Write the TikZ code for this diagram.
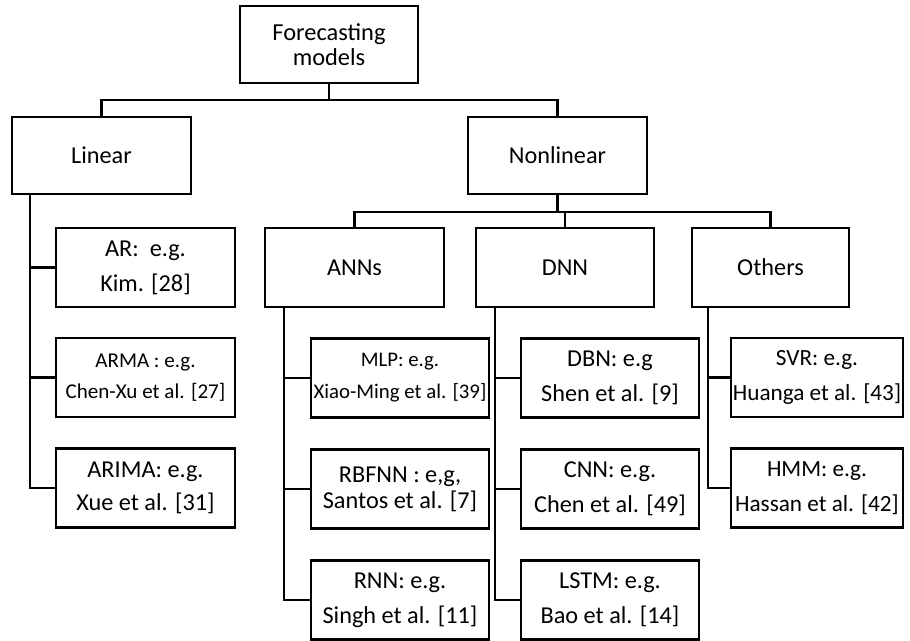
\documentclass[tikz,border=0pt]{standalone}
\usepackage{fontspec}
\setmainfont{Carlito}
\begin{document}
\begin{tikzpicture}[x=0.75pt,y=-0.75pt,
  box/.style={draw, line width=2.1pt, rectangle, inner sep=0pt, align=center,
     minimum width=#1*0.75pt},
  tall/.style={minimum height=79*0.75pt},
  lbl/.style args={#1/#2}{font=\fontsize{#1}{#2}\selectfont},
  conn/.style={line width=1.9pt}]
\useasboundingbox (0,0) rectangle (910,641);
% level 0-1
\node[box=178, minimum height=77*0.75pt, lbl=18.3/19] (fm) at (329,44.5) {Forecasting\\models};
\node[box=179, minimum height=77*0.75pt, lbl=18.2/20] (lin) at (101.5,155.5) {Linear};
\node[box=179, minimum height=77*0.75pt, lbl=18.2/20] (nonlin) at (557.5,155.5) {Nonlinear};
% linear children
\node[box=179, tall, lbl=18.2/26.25] (ar) at (145.5,267.5) {AR:~ e.g.\\Kim. [28]};
\node[box=179, tall, lbl=15.8/23.25] (arma) at (145.5,377.5) {ARMA : e.g.\\Chen-Xu et al. [27]};
\node[box=179, tall, lbl=18.2/24.75] (arima) at (145.5,488) {ARIMA: e.g.\\Xue et al. [31]};
% nonlinear children
\node[box=179, tall, lbl=18.2/20] (anns) at (354.5,267.5) {ANNs};
\node[box=178, tall, lbl=18.2/20] (dnn) at (565,267.5) {DNN};
\node[box=157, tall, lbl=18.2/20] (others) at (770.5,267.5) {Others};
% ANNs children
\node[box=178, tall, lbl=15.6/24] (mlp) at (400,378) {MLP: e.g.\\Xiao-Ming et al. [39]};
\node[box=178, tall, lbl=18.2/19.5] (rbfnn) at (400,489) {RBFNN : e,g,\\Santos et al. [7]};
\node[box=178, tall, lbl=18.2/26.25] (rnn) at (400,600) {RNN: e.g.\\Singh et al. [11]};
% DNN children
\node[box=178, tall, lbl=18.2/26.25] (dbn) at (610,378) {DBN: e.g\\Shen et al. [9]};
\node[box=178, tall, lbl=18.2/26.25] (cnn) at (610,489) {CNN: e.g.\\Chen et al. [49]};
\node[box=178, tall, lbl=18.2/26.25] (lstm) at (610,600) {LSTM: e.g.\\Bao et al. [14]};
% Others children
\node[box=172, tall, lbl=17.4/26.25] (svr) at (817,377.5) {SVR: e.g.\\Huanga et al. [43]};
\node[box=172, tall, lbl=17.4/26.25] (hmm) at (817,488) {HMM: e.g.\\Hassan et al. [42]};
% bus coordinates
\coordinate (b1) at (0,100);
\coordinate (b2) at (0,212);
\coordinate (tl) at (30,0);
\coordinate (ta) at (284,0);
\coordinate (td) at (495,0);
\coordinate (to) at (708,0);
% top connectors
\draw[conn] (fm.south) -- (fm.south |- b1) -| (lin.north);
\draw[conn] (fm.south |- b1) -| (nonlin.north);
\draw[conn] (nonlin.south) -- (nonlin.south |- b2) -| (anns.north);
\draw[conn] (nonlin.south |- b2) -| (dnn.north);
\draw[conn] (nonlin.south |- b2) -| (others.north);
% linear trunk
\draw[conn] (lin.south -| tl) |- (arima.west);
\draw[conn] (tl |- ar.west) -- (ar.west);
\draw[conn] (tl |- arma.west) -- (arma.west);
% ANNs trunk
\draw[conn] (anns.south -| ta) |- (rnn.west);
\draw[conn] (ta |- mlp.west) -- (mlp.west);
\draw[conn] (ta |- rbfnn.west) -- (rbfnn.west);
% DNN trunk
\draw[conn] (dnn.south -| td) |- (lstm.west);
\draw[conn] (td |- dbn.west) -- (dbn.west);
\draw[conn] (td |- cnn.west) -- (cnn.west);
% Others trunk
\draw[conn] (others.south -| to) |- (hmm.west);
\draw[conn] (to |- svr.west) -- (svr.west);
\end{tikzpicture}
\end{document}
